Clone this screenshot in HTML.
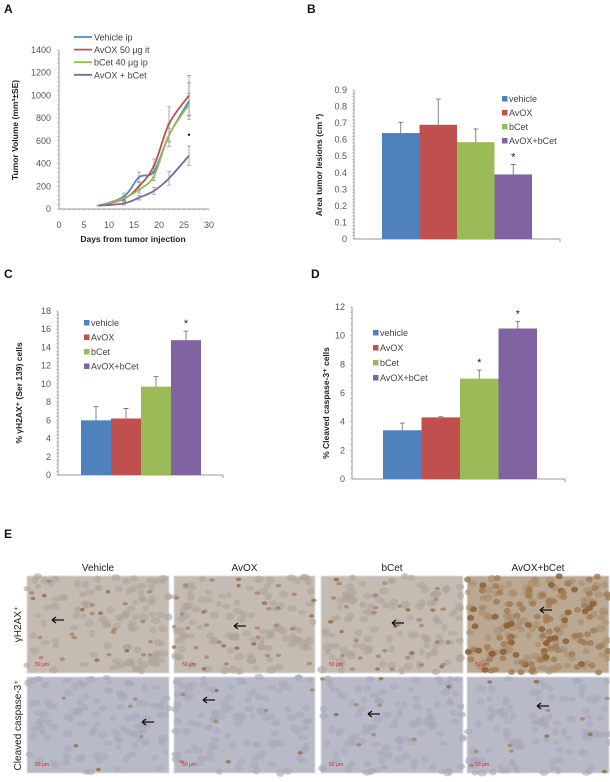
<!DOCTYPE html>
<html><head><meta charset="utf-8">
<style>
html,body{margin:0;padding:0;background:#fff;}
svg{display:block;font-family:"Liberation Sans",Arial,sans-serif;}
.tk{font-size:9px;fill:#555;}
.ttl{font-size:8.5px;font-weight:bold;fill:#222;}
.lg{font-size:9px;fill:#444;}
.pl{font-size:12px;font-weight:bold;fill:#111;}
</style></head>
<body>
<svg id="fig" width="610" height="782" viewBox="0 0 610 782">
<g id="gA"></g>
<g id="gB"></g>
<g id="gC"></g>
<g id="gD"></g>
<g id="gE"></g>
</svg>
<script>
// ---- Panel A data ----
const daysA = [8, 13, 16, 19, 22, 26];
const vehicleA = [30, 110, 280, 330, 650, 950];
const avoxA = [30, 90, 200, 380, 750, 1000];
const bcetA = [30, 95, 170, 290, 650, 920];
const comboA = [30, 50, 100, 160, 270, 470];
const vehicleErrA = [5, 30, 45, 50, 100, 160];
const avoxErrA = [5, 20, 40, 60, 150, 175];
const bcetErrA = [5, 20, 30, 40, 60, 100];
const comboErrA = [5, 15, 20, 30, 60, 85];
const seriesNamesA = ["Vehicle ip", "AvOX 50 µg it", "bCet 40 µg ip", "AvOX + bCet"];
const yTicksA = [0, 200, 400, 600, 800, 1000, 1200, 1400];
const xTicksA = [0, 5, 10, 15, 20, 25, 30];
// ---- Bar panels data ----
const barCats = ["vehicle", "AvOX", "bCet", "AvOX+bCet"];
const valuesB = [0.64, 0.69, 0.585, 0.39];
const errB = [0.065, 0.155, 0.08, 0.06];
const yTicksB = [0, 0.1, 0.2, 0.3, 0.4, 0.5, 0.6, 0.7, 0.8, 0.9];
const valuesC = [6.0, 6.2, 9.7, 14.8];
const errC = [1.5, 1.1, 1.1, 1.0];
const yTicksC = [0, 2, 4, 6, 8, 10, 12, 14, 16, 18];
const valuesD = [3.4, 4.3, 7.0, 10.5];
const errD = [0.5, 0.05, 0.6, 0.5];
const yTicksD = [0, 2, 4, 6, 8, 10, 12];
const starsB = [false, false, false, true];
const starsC = [false, false, false, true];
const starsD = [false, false, true, true];
const colA = ["#4a8bc2", "#c0504d", "#9bbb59", "#8064a2"];
const colBar = ["#4f81bd", "#c0504d", "#9bbb59", "#8064a2"];

const NS = "http://www.w3.org/2000/svg";
function mk(tag, attrs, parent, txt) {
  const e = document.createElementNS(NS, tag);
  for (const k in attrs) e.setAttribute(k, attrs[k]);
  if (txt !== undefined) e.textContent = txt;
  parent.appendChild(e);
  return e;
}

// ---------- Panel A ----------
(function () {
  const g = document.getElementById('gA');
  const x0 = 59, x1 = 209, y0 = 209, y1 = 50;
  const xs = v => x0 + (v / 30) * (x1 - x0);
  const ys = v => y0 - (v / 1400) * (y0 - y1);
  let t = mk('text', { x: 4, y: 13, class: 'pl' }, g, 'A');
  
  
  let ax = mk('line', { x1: x0, y1: y0, x2: x0, y2: y1, stroke: '#999', 'stroke-width': 1 }, g);
  
  
  ax = mk('line', { x1: x0, y1: y0, x2: x1, y2: y0, stroke: '#999', 'stroke-width': 1 }, g);
  
  
  for (let d = 0; d <= 30; d++) mk('line', { x1: xs(d), y1: y0, x2: xs(d), y2: y0 + 2, stroke: '#aaa', 'stroke-width': 0.6 }, g);
  for (let v = 0; v <= 1400; v += 40) mk('line', { x1: x0 - 2, y1: ys(v), x2: x0, y2: ys(v), stroke: '#aaa', 'stroke-width': 0.6 }, g);
  yTicksA.forEach(v => {
    const e = mk('text', { x: x0 - 8, y: ys(v) + 3, class: 'tk', 'text-anchor': 'end' }, g, v);
    
    
  });
  xTicksA.forEach(v => {
    const e = mk('text', { x: xs(v), y: 228, class: 'tk', 'text-anchor': 'middle' }, g, v);
    
    
  });
  t = mk('text', { x: 133, y: 242, class: 'ttl', 'text-anchor': 'middle', 'font-size': '9px' }, g, 'Days from tumor injection');
  
  
  t = mk('text', { x: 0, y: 0, class: 'ttl', 'text-anchor': 'middle', transform: 'translate(18,130) rotate(-90)' }, g, 'Tumor Volume (mm³±SE)');
  
  
  const all = [vehicleA, avoxA, bcetA, comboA];
  const errs = [vehicleErrA, avoxErrA, bcetErrA, comboErrA];
  all.forEach((ser, si) => {
    errs[si].forEach((e, i) => {
      const xx = xs(daysA[i]);
      const b = mk('path', { d: `M${xx},${ys(ser[i] - e)}V${ys(ser[i] + e)}M${xx - 2},${ys(ser[i] + e)}h4M${xx - 2},${ys(ser[i] - e)}h4`, stroke: '#999', 'stroke-width': 0.8, fill: 'none' }, g);
      
      
    });
  });
  all.forEach((ser, si) => {
    const p = daysA.map((d, i) => [xs(d), ys(ser[i])]);
    let d = `M${p[0][0]},${p[0][1]}`;
    for (let i = 0; i < p.length - 1; i++) {
      const a = p[Math.max(0, i - 1)], b = p[i], c = p[i + 1], e = p[Math.min(p.length - 1, i + 2)];
      d += `C${b[0] + (c[0] - a[0]) / 6},${b[1] + (c[1] - a[1]) / 6} ${c[0] - (e[0] - b[0]) / 6},${c[1] - (e[1] - b[1]) / 6} ${c[0]},${c[1]}`;
    }
    const l = mk('path', { d, stroke: colA[si], 'stroke-width': 1.8, fill: 'none' }, g);
    
    
  });
  t = mk('text', { x: xs(26), y: ys(650) + 3, 'font-size': '9px', 'text-anchor': 'middle', fill: '#222' }, g, '•');
  
  
  seriesNamesA.forEach((n, i) => {
    const yy = 37 + i * 12.6;
    const ln = mk('line', { x1: 74, y1: yy, x2: 92, y2: yy, stroke: colA[i], 'stroke-width': 1.8 }, g);
    
    
    const e = mk('text', { x: 94, y: yy + 3.5, class: 'lg', 'font-size': '10px' }, g, n);
    
    
  });
})();

// ---------- Bar panels ----------
function barPanel(gid, o) {
  const g = document.getElementById(gid);
  const ys = v => o.y0 - (v / o.ymax) * (o.y0 - o.y1);
  let t = mk('text', { x: o.lx, y: o.ly, class: 'pl' }, g, o.letter);
  
  
  let a = mk('line', { x1: o.ax, y1: o.y0, x2: o.ax, y2: o.y1, stroke: '#999', 'stroke-width': 1 }, g);
  
  
  a = mk('line', { x1: o.ax, y1: o.y0, x2: o.xr, y2: o.y0, stroke: '#999', 'stroke-width': 1 }, g);
  
  
  mk('line', { x1: o.xr, y1: o.y0, x2: o.xr, y2: o.y0 + 3, stroke: '#999' }, g);
  const step = o.ticks[1] - o.ticks[0];
  for (let v = 0; v <= o.ymax + 1e-9; v += step / 5) mk('line', { x1: o.ax - 2, y1: ys(v), x2: o.ax, y2: ys(v), stroke: '#aaa', 'stroke-width': 0.6 }, g);
  o.ticks.forEach(v => {
    const e = mk('text', { x: o.ax - 7, y: ys(v) + 3, class: 'tk', 'text-anchor': 'end' }, g, v);
    
    
  });
  t = mk('text', { x: 0, y: 0, class: 'ttl', 'text-anchor': 'middle', transform: `translate(${o.tx},${o.ty}) rotate(-90)` }, g, o.title);
  
  
  o.vals.forEach((v, i) => {
    const x = o.bx + i * o.bw;
    const r = mk('rect', { x, y: ys(v), width: o.bw, height: o.y0 - ys(v), fill: colBar[i] }, g);
    
    
    const cx = x + o.bw / 2, top = ys(v + o.errs[i]);
    const eb = mk('path', { d: `M${cx},${ys(v)}V${top}M${cx - 2.5},${top}h5`, stroke: '#777', 'stroke-width': 0.9, fill: 'none' }, g);
    
    
    if (o.stars[i]) {
      const s = mk('text', { x: cx, y: top - 4, 'font-size': '11px', 'text-anchor': 'middle', fill: '#222' }, g, '*');
      
      
    }
  });
  barCats.forEach((c, i) => {
    const yy = o.legY + i * o.legDy;
    const sq = mk('rect', { x: o.legX, y: yy - 3, width: 5.5, height: 5.5, fill: colBar[i] }, g);
    
    
    const e = mk('text', { x: o.legX + 7, y: yy + 3, class: 'lg' }, g, c);
    
    
  });
}
barPanel('gB', { letter: 'B', lx: 307, ly: 13, ax: 354, xr: 560, y0: 239, y1: 90, ymax: 0.9, ticks: yTicksB, vals: valuesB, errs: errB, stars: starsB, bx: 382, bw: 37.5, legX: 502, legY: 99, legDy: 14, tx: 322, ty: 165, title: 'Area tumor lesions (cm ²)' });
barPanel('gC', { letter: 'C', lx: 4, ly: 278, ax: 58, xr: 223, y0: 475, y1: 311, ymax: 18, ticks: yTicksC, vals: valuesC, errs: errC, stars: starsC, bx: 81, bw: 30, legX: 84, legY: 323, legDy: 14.5, tx: 22, ty: 393, title: '% γH2AX⁺ (Ser 139) cells' });
barPanel('gD', { letter: 'D', lx: 311, ly: 278, ax: 352, xr: 565, y0: 479, y1: 307, ymax: 12, ticks: yTicksD, vals: valuesD, errs: errD, stars: starsD, bx: 383, bw: 38.5, legX: 373, legY: 333, legDy: 15, tx: 329, ty: 403, title: '% Cleaved caspase-3⁺ cells' });

// ---------- Panel E micrographs ----------
(function () {
  const g = document.getElementById('gE');
  let t = mk('text', { x: 4, y: 538, class: 'pl' }, g, 'E');
  
  
  const cols = [[27, 169, 'Vehicle'], [174, 315, 'AvOX'], [321, 463, 'bCet'], [467, 609, 'AvOX+bCet']];
  const rows = [[576, 673], [677, 773]];
  const density = [[25, 35, 35, 110], [6, 8, 9, 12]];
  const arrows = [[[52, 620], [234, 626], [392, 623], [540, 610]], [[142, 722], [203, 700], [368, 714], [537, 706]]];
  let seed = 7;
  const rnd = () => { seed = (seed * 16807) % 2147483647; return seed / 2147483647; };
  rows.forEach((r, ri) => {
    cols.forEach((c, ci) => {
      const w = c[1] - c[0], h = r[1] - r[0];
      const im = mk('g', {}, g);
      
      
      mk('rect', { x: c[0], y: r[0], width: w, height: h, fill: ri === 0 ? (ci === 3 ? '#bba893' : '#c4bbb3') : '#b8bac8', stroke: '#ddd', 'stroke-width': 1 }, im);
      for (let k = 0; k < 110; k++) mk('ellipse', { cx: c[0] + rnd() * w, cy: r[0] + rnd() * h, rx: 3 + rnd() * 2, ry: 2.5 + rnd() * 1.5, fill: ri === 0 ? (ci === 3 ? '#a88a6a' : '#aea39a') : '#a7a9b9', opacity: 0.6 }, im);
      for (let k = 0; k < density[ri][ci]; k++) {
        const big = ri === 0 && ci === 3;
        mk('ellipse', { cx: c[0] + rnd() * w, cy: r[0] + rnd() * h, rx: big ? 3.5 : 2 + rnd(), ry: big ? 3 : 1.8, fill: rnd() < 0.3 ? '#8a5a2a' : '#a07a55', opacity: big ? 0.8 : 0.65 }, im);
      }
      const s = mk('text', { x: c[0] + 8, y: r[1] - 7, 'font-size': '5px', fill: '#e02020' }, im, '50 µm');
      
      
      const a = arrows[ri][ci];
      const ar = mk('path', { d: `M${a[0]},${a[1]}h12M${a[0]},${a[1]}l4,-3M${a[0]},${a[1]}l4,3`, stroke: '#111', 'stroke-width': 1.3, fill: 'none' }, im);
      
      
    });
  });
  cols.forEach(c => {
    const e = mk('text', { x: (c[0] + c[1]) / 2, y: 571, 'font-size': '10px', 'text-anchor': 'middle', fill: '#222' }, g, c[2]);
    
    
  });
  let r1 = mk('text', { x: 0, y: 0, 'font-size': '10px', 'text-anchor': 'middle', fill: '#222', transform: 'translate(21,624) rotate(-90)' }, g, 'γH2AX⁺');
  
  
  r1 = mk('text', { x: 0, y: 0, 'font-size': '10px', 'text-anchor': 'middle', fill: '#222', transform: 'translate(21,725) rotate(-90)' }, g, 'Cleaved  caspase-3⁺');
  
  
})();
</script>
</body></html>
